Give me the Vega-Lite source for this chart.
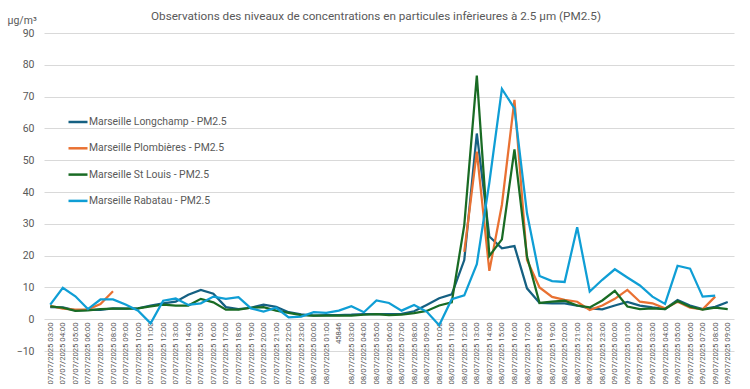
{
  "$schema": "https://vega.github.io/schema/vega-lite/v6.json",
  "width": 690,
  "height": 318,
  "autosize": {"type": "none"},
  "padding": {"left": 44, "top": 33, "right": 16, "bottom": 38},
  "background": "white",
  "title": {"text": "Observations des niveaux de concentrations en particules infèrieures à 2.5 µm (PM2.5)", "fontSize": 11.7, "fontWeight": "normal", "color": "#595959", "anchor": "middle", "frame": "group", "dx": -13, "dy": 20, "offset": 12},
  "data": {"values": [
    {"t": "07/07/2025 03:00", "L": 3.8, "P": 4.2, "S": 4.0, "R": 4.6},
    {"t": "07/07/2025 04:00", "L": 3.7, "P": 3.3, "S": 3.6, "R": 9.9},
    {"t": "07/07/2025 05:00", "L": 2.8, "P": 3.0, "S": 2.6, "R": 7.2},
    {"t": "07/07/2025 06:00", "L": 2.9, "P": 3.1, "S": 2.8, "R": 3.2},
    {"t": "07/07/2025 07:00", "L": 2.9, "P": 4.8, "S": 3.2, "R": 6.2},
    {"t": "07/07/2025 08:00", "L": 3.4, "P": 8.8, "S": 3.3, "R": 6.2},
    {"t": "07/07/2025 09:00", "L": 3.3, "P": null, "S": 3.3, "R": 4.6},
    {"t": "07/07/2025 10:00", "L": 3.4, "P": null, "S": 3.4, "R": 2.7},
    {"t": "07/07/2025 11:00", "L": 4.3, "P": null, "S": 4.0, "R": -1.3},
    {"t": "07/07/2025 12:00", "L": 5.0, "P": null, "S": 4.6, "R": 5.8},
    {"t": "07/07/2025 13:00", "L": 5.5, "P": null, "S": 4.3, "R": 6.5},
    {"t": "07/07/2025 14:00", "L": 7.7, "P": null, "S": 4.3, "R": 4.5},
    {"t": "07/07/2025 15:00", "L": 9.2, "P": null, "S": 6.4, "R": 5.0},
    {"t": "07/07/2025 16:00", "L": 8.0, "P": null, "S": 5.3, "R": 7.1},
    {"t": "07/07/2025 17:00", "L": 3.8, "P": null, "S": 3.0, "R": 6.4},
    {"t": "07/07/2025 18:00", "L": 3.2, "P": null, "S": 3.0, "R": 6.9},
    {"t": "07/07/2025 19:00", "L": 3.6, "P": null, "S": 3.6, "R": 3.4},
    {"t": "07/07/2025 20:00", "L": 4.6, "P": null, "S": 3.8, "R": 2.4},
    {"t": "07/07/2025 21:00", "L": 3.9, "P": null, "S": 2.7, "R": 3.6},
    {"t": "07/07/2025 22:00", "L": 2.2, "P": null, "S": 2.0, "R": 0.6},
    {"t": "07/07/2025 23:00", "L": 1.5, "P": null, "S": 1.3, "R": 0.8},
    {"t": "08/07/2025 00:00", "L": 1.1, "P": null, "S": 1.1, "R": 2.2},
    {"t": "08/07/2025 01:00", "L": 1.3, "P": null, "S": 1.1, "R": 2.0},
    {"t": "45846", "L": 1.3, "P": null, "S": 1.1, "R": 2.7},
    {"t": "08/07/2025 03:00", "L": 1.4, "P": null, "S": 1.1, "R": 4.1},
    {"t": "08/07/2025 04:00", "L": 1.6, "P": null, "S": 1.4, "R": 2.2},
    {"t": "08/07/2025 05:00", "L": 1.6, "P": null, "S": 1.6, "R": 5.9},
    {"t": "08/07/2025 06:00", "L": 1.6, "P": null, "S": 1.3, "R": 5.1},
    {"t": "08/07/2025 07:00", "L": 1.7, "P": null, "S": 1.4, "R": 2.7},
    {"t": "08/07/2025 08:00", "L": 2.5, "P": null, "S": 1.9, "R": 4.5},
    {"t": "08/07/2025 09:00", "L": 4.5, "P": null, "S": 2.6, "R": 2.4},
    {"t": "08/07/2025 10:00", "L": 6.6, "P": null, "S": 4.3, "R": -1.9},
    {"t": "08/07/2025 11:00", "L": 7.8, "P": null, "S": 5.3, "R": 6.3},
    {"t": "08/07/2025 12:00", "L": 18.6, "P": 21.2, "S": 29.6, "R": 7.5},
    {"t": "08/07/2025 13:00", "L": 58.4, "P": 52.7, "S": 76.6, "R": 17.3},
    {"t": "08/07/2025 14:00", "L": 26.0, "P": 15.2, "S": 19.9, "R": 43.0},
    {"t": "08/07/2025 15:00", "L": 22.3, "P": 36.0, "S": 25.1, "R": 72.4},
    {"t": "08/07/2025 16:00", "L": 23.0, "P": 69.0, "S": 53.4, "R": 66.3},
    {"t": "08/07/2025 17:00", "L": 9.7, "P": 18.6, "S": 19.7, "R": 33.3},
    {"t": "08/07/2025 18:00", "L": 5.1, "P": 10.0, "S": 5.1, "R": 13.6},
    {"t": "08/07/2025 19:00", "L": 5.0, "P": 7.0, "S": 5.5, "R": 12.0},
    {"t": "08/07/2025 20:00", "L": 5.0, "P": 6.1, "S": 5.8, "R": 11.7},
    {"t": "08/07/2025 21:00", "L": 4.3, "P": 5.5, "S": 4.3, "R": 28.9},
    {"t": "08/07/2025 22:00", "L": 3.4, "P": 2.9, "S": 3.7, "R": 8.7},
    {"t": "08/07/2025 23:00", "L": 3.1, "P": 4.3, "S": 5.9, "R": 12.4},
    {"t": "09/07/2025 00:00", "L": 4.3, "P": 6.4, "S": 8.9, "R": 15.7},
    {"t": "09/07/2025 01:00", "L": 5.4, "P": 9.2, "S": 4.0, "R": 13.1},
    {"t": "09/07/2025 02:00", "L": 4.3, "P": 5.5, "S": 3.2, "R": 10.6},
    {"t": "09/07/2025 03:00", "L": 3.7, "P": 5.0, "S": 3.4, "R": 7.1},
    {"t": "09/07/2025 04:00", "L": 3.2, "P": 3.4, "S": 3.2, "R": 4.8},
    {"t": "09/07/2025 05:00", "L": 6.0, "P": 5.5, "S": 5.7, "R": 16.8},
    {"t": "09/07/2025 06:00", "L": 4.3, "P": 3.6, "S": 3.9, "R": 15.9},
    {"t": "09/07/2025 07:00", "L": 3.2, "P": 3.1, "S": 3.0, "R": 7.1},
    {"t": "09/07/2025 08:00", "L": 3.9, "P": 7.1, "S": 3.6, "R": 7.4},
    {"t": "09/07/2025 09:00", "L": 5.4, "P": null, "S": 3.2, "R": null}
  ]},
  "transform": [
    {"fold": ["L", "P", "S", "R"], "as": ["k", "v"]},
    {"lookup": "k", "from": {"data": {"values": [
      {"k": "L", "s": "Marseille Longchamp - PM2.5"},
      {"k": "P", "s": "Marseille Plombières - PM2.5"},
      {"k": "S", "s": "Marseille St Louis - PM2.5"},
      {"k": "R", "s": "Marseille Rabatau - PM2.5"}
    ]}, "key": "k", "fields": ["s"]}}
  ],
  "mark": {"type": "line", "strokeWidth": 2.25, "invalid": "break-paths-show-domains"},
  "encoding": {
    "x": {
      "field": "t", "type": "ordinal", "sort": null,
      "scale": {"type": "point", "padding": 0.5},
      "axis": {"title": null, "labelAngle": 270, "labelFontSize": 7.7, "labelColor": "#595959", "labelPadding": 3, "offset": -32, "domain": false, "ticks": false, "grid": false, "labelOverlap": false, "labelBound": false}
    },
    "y": {
      "field": "v", "type": "quantitative",
      "scale": {"domain": [-10, 90], "nice": false, "zero": false},
      "axis": {"values": [-10, 0, 10, 20, 30, 40, 50, 60, 70, 80, 90], "title": "µg/m³", "titleAngle": 0, "titleAlign": "left", "titleBaseline": "bottom", "titleX": -37, "titleY": -8, "titleFontSize": 10.5, "titleFontWeight": "normal", "titleColor": "#595959", "labelFontSize": 10.5, "labelColor": "#595959", "labelPadding": 10, "domain": false, "ticks": false, "gridColor": "#d9d9d9", "gridWidth": 1}
    },
    "color": {
      "field": "s", "type": "nominal",
      "scale": {"domain": ["Marseille Longchamp - PM2.5", "Marseille Plombières - PM2.5", "Marseille St Louis - PM2.5", "Marseille Rabatau - PM2.5"], "range": ["#156082", "#E97132", "#196B24", "#0F9ED5"]},
      "legend": {"title": null, "orient": "none", "legendX": 23, "legendY": 78, "direction": "vertical", "symbolType": "stroke", "symbolSize": 361, "symbolStrokeWidth": 2.5, "labelFontSize": 10.4, "labelColor": "#595959", "labelOffset": 0, "rowPadding": 9.3}
    }
  },
  "config": {"view": {"stroke": null}, "font": "Roboto"}
}
